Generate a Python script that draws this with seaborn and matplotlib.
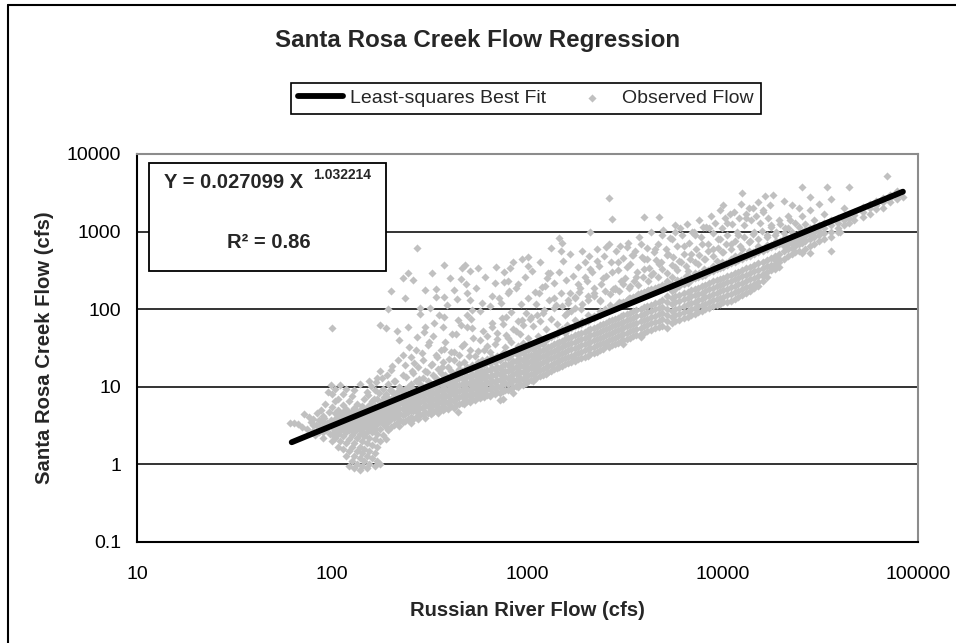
import pandas as pd
import matplotlib
matplotlib.use("Agg")
import matplotlib.pyplot as plt
from matplotlib.patches import Rectangle
from matplotlib.lines import Line2D
from matplotlib.ticker import FixedLocator, NullLocator, FuncFormatter
import seaborn as sns

# least-squares fit, Y = 0.027099 X^1.032214, drawn between its end points
fit_x = [62, 83700]
fit_y = [1.93, 3270]

# observed flows: Russian River flow (x columns) and
# the Santa Rosa Creek flows seen at each of them
low_x = [61, 64, 67, 70, 72, 74, 76, 78, 80, 82, 83, 84, 86, 87, 88, 90, 91, 92, 93, 94, 95, 96, 97, 98, 99, 100]
low_y = [[3.4], [3.4], [3.3], [3.0], [4.4], [2.9], [4.1], [3.5], [2.7, 3.2, 3.9], [2.4], [3.2], [4.6],
         [2.6, 3.1, 3.7], [3.6], [5.0], [2.2, 2.6, 3.0, 3.5, 4.2], [4.0], [6.0], [2.8], [3.4], [8.5],
         [4.8], [2.5], [10.5], [3.7], [2.0, 2.5, 3.0, 3.5, 5.5, 8.0, 57]]

blob_x = [103, 107, 110, 114, 118, 122, 126, 130, 134, 138, 142, 146, 150, 155, 160, 165, 170,
          176, 182, 188, 194]
blob_y = [[2.2, 2.8, 3.3, 3.9, 4.6, 6.5, 9.5], [1.7, 2.5, 3.0, 3.5, 4.2, 5.0, 7.0],
          [2.0, 2.7, 3.2, 3.7, 4.4, 10.5], [1.6, 2.3, 2.9, 3.4, 4.0, 4.8, 5.8, 8.0],
          [1.3, 1.9, 2.6, 3.1, 3.6, 4.3, 5.2, 9.5], [0.95, 1.5, 2.1, 2.8, 3.3, 3.9, 4.6, 6.5],
          [1.1, 1.7, 2.4, 3.0, 3.5, 4.1, 4.9, 7.5], [0.9, 1.3, 1.9, 2.6, 3.2, 3.7, 4.4, 5.4, 9.0],
          [1.0, 1.5, 2.2, 2.9, 3.4, 4.0, 4.7, 6.0], [0.85, 1.2, 1.7, 2.5, 3.1, 3.6, 4.2, 5.0, 11.0],
          [0.95, 1.4, 2.0, 2.7, 3.3, 3.9, 4.6, 5.6], [1.1, 1.6, 2.3, 3.0, 3.5, 4.1, 4.9, 7.0],
          [0.9, 1.3, 1.9, 2.6, 3.2, 3.8, 4.4, 5.3, 8.5], [1.0, 1.5, 2.2, 2.9, 3.5, 4.0, 4.7, 5.8, 12.0],
          [1.2, 1.8, 2.6, 3.2, 3.8, 4.4, 5.2, 6.5], [0.95, 1.4, 2.1, 2.9, 3.5, 4.1, 4.8, 5.7, 9.0],
          [1.1, 1.7, 2.5, 3.3, 3.9, 4.6, 5.4, 7.0, 13.0], [1.0, 2.0, 2.9, 3.6, 4.3, 5.0, 6.0, 16.0, 63],
          [2.4, 3.3, 4.0, 4.7, 5.5, 6.8, 9.5], [2.1, 3.0, 3.7, 4.4, 5.2, 6.2, 8.0, 57],
          [2.8, 3.5, 4.2, 5.0, 5.9, 7.2, 11, 100]]

mid_x = [200, 207, 214, 221, 229, 237, 244, 252, 260, 268, 273, 276, 283, 292, 300, 310, 315, 320,
         325, 330, 340, 350, 360, 370, 375, 380, 392, 400, 405, 418, 430, 440, 445, 455, 460, 475,
         480, 490, 505, 510]
mid_y = [[3.0, 3.8, 4.5, 5.2, 6.0, 7.0, 9.0, 16.5, 172], [3.2, 4.0, 4.8, 5.6, 6.5, 8.0, 12],
         [3.4, 4.2, 5.0, 5.9, 6.9, 8.5, 53], [3.1, 3.9, 4.6, 5.4, 6.3, 7.4, 10, 40],
         [3.5, 4.3, 5.1, 6.0, 7.0, 8.5, 14, 250], [3.6, 4.5, 5.4, 6.4, 7.5, 9.5, 19, 140],
         [3.8, 4.7, 5.6, 6.6, 7.8, 10, 59, 290], [3.4, 4.1, 5.0, 5.9, 6.9, 8.2, 11, 24],
         [3.9, 4.9, 5.8, 6.8, 8.0, 9.5, 15, 240], [4.1, 5.1, 6.1, 7.2, 8.6, 12, 30], [620],
         [3.8, 4.6, 5.5, 6.5, 7.7, 9.2, 18], [4.3, 5.3, 6.3, 7.5, 9.0, 11, 87, 103],
         [4.5, 5.4, 6.5, 7.8, 9.3, 13, 22], [4.0, 4.8, 5.8, 6.9, 8.2, 10, 16, 59, 177],
         [4.6, 5.6, 6.7, 8.0, 9.6, 12, 35], [103], [4.4, 5.2, 6.2, 7.4, 8.8, 11, 19], [290],
         [4.8, 5.8, 7.0, 8.4, 10, 14, 45], [5.0, 6.0, 7.2, 8.6, 10.5, 13, 26, 145, 180],
         [4.6, 5.5, 6.6, 7.9, 9.5, 11.5, 17], [5.2, 6.3, 7.6, 9.1, 11, 15, 30],
         [5.0, 6.0, 7.2, 8.7, 10.5, 12.5, 21, 59], [80, 145, 370], [5.4, 6.5, 7.8, 9.4, 11.3, 14, 38],
         [5.2, 6.2, 7.5, 9.0, 10.8, 13, 18], [250], [5.6, 6.8, 8.2, 9.9, 12, 16, 28],
         [5.4, 6.5, 7.8, 9.4, 11.3, 13.5, 22, 177], [5.8, 7.0, 8.5, 10.2, 12.3, 15, 48], [4.7, 72],
         [6.0, 7.3, 8.8, 10.6, 12.8, 17, 26], [245], [6.2, 7.5, 9.0, 10.9, 13.1, 16, 34, 340],
         [6.0, 7.2, 8.7, 10.5, 12.7, 15.5, 21], [370], [6.5, 7.8, 9.4, 11.3, 13.6, 18, 59, 85, 160],
         [6.3, 7.6, 9.2, 11.1, 13.4, 16.5, 30, 130], [310]]

upper_x = [520, 540, 555, 570, 585, 600, 620, 640, 660, 680, 690, 700, 720, 730, 745, 760, 770, 780,
           795, 810, 820, 845, 870, 895, 920, 940, 950, 980, 1000, 1010, 1040, 1070, 1100, 1130,
           1150, 1160, 1200, 1230, 1240, 1280, 1300, 1320, 1360, 1370, 1410, 1450, 1480, 1500]
upper_y = [[7.0, 8.4, 10.1, 12.2, 14.7, 19, 57, 97], [6.7, 8.0, 9.7, 11.7, 14.1, 17.5, 25],
           [7.3, 8.8, 10.6, 12.8, 15.4, 21, 340], [7.1, 8.6, 10.3, 12.4, 15, 18.5, 40],
           [7.6, 9.2, 11.0, 13.3, 16, 22, 120], [7.4, 8.9, 10.7, 12.9, 15.5, 19, 30],
           [7.9, 9.5, 11.5, 13.8, 16.7, 23, 45], [7.7, 9.3, 11.2, 13.5, 16.3, 20, 28],
           [8.2, 9.9, 11.9, 14.4, 17.4, 24, 59, 150], [8.0, 9.6, 11.6, 14.0, 16.9, 21, 36], [350],
           [8.5, 10.3, 12.4, 15, 18, 25, 50], [6.8, 8.3, 10.0, 12.1, 14.6, 17.6, 22], [120],
           [7.0, 8.9, 10.8, 13, 15.7, 19, 27, 65], [225], [9.2, 11.1, 13.4, 16.1, 19.4, 24, 33], [80],
           [9.0, 10.9, 13.1, 15.8, 19, 23.5, 42, 160, 230], [340], [9.5, 11.5, 13.9, 16.8, 20.2, 26, 38],
           [8.3, 10.0, 12.1, 14.6, 17.6, 21.2, 28, 55], [10.3, 12.4, 15, 18.1, 21.8, 27, 185],
           [10.0, 12.1, 14.6, 17.6, 21.2, 25.5, 34, 70], [10.8, 13, 15.7, 18.9, 22.8, 29, 48], [72, 445],
           [10.5, 12.7, 15.3, 18.4, 22.2, 27, 37], [11.3, 13.6, 16.4, 19.8, 23.9, 31, 90], [360],
           [11.8, 14.2, 17.1, 20.6, 24.8, 30, 42, 470], [12.3, 14.8, 17.8, 21.5, 26, 33, 80],
           [12.0, 14.5, 17.5, 21, 25.3, 31, 60], [12.8, 15.4, 18.6, 22.4, 27, 35, 115],
           [16.6, 19.5, 23.5, 28.3, 34, 45], [160], [13.7, 16.5, 19.9, 24, 29, 38, 70],
           [14.2, 17.1, 20.6, 24.8, 30, 36, 89], [200], [14.8, 17.8, 21.5, 25.9, 31, 40, 55],
           [15.5, 18.6, 22.5, 27, 32.5, 42, 295], [290], [16, 19.3, 23.3, 28, 34, 44, 75], [103],
           [16.8, 20.2, 24.3, 29.3, 35.3, 46, 140], [17.4, 21, 25.3, 30.5, 36.7, 48, 65],
           [18.1, 21.8, 26.3, 31.7, 38, 52, 830], [560], [18.8, 22.6, 27.2, 32.8, 39.5, 56, 110, 710]]

high_x = [1560, 1620, 1660, 1680, 1720, 1750, 1820, 1830, 1890, 1960, 2030, 2100, 2180, 2260, 2350,
          2440, 2530, 2600, 2700, 2800, 2900, 3000, 3100, 3230, 3350, 3480, 3600, 3800, 3940, 4100,
          4300, 4500, 4700, 4900]
high_y = [[19.5, 23.5, 28.3, 34.1, 41, 50, 85], [20.3, 24.5, 29.5, 35.5, 42.8, 55, 120], [160],
          [21, 25.3, 30.5, 36.8, 44.3, 58, 95], [24], [21.8, 26.3, 31.7, 38.2, 46, 60, 140],
          [22.7, 27.3, 32.9, 39.7, 47.8, 62, 210], [165], [23.5, 28.4, 34.2, 41.2, 49.6, 65, 100],
          [24.4, 29.4, 35.5, 42.8, 51.5, 68, 260], [25.3, 30.5, 36.8, 44.3, 53.4, 70, 150],
          [26.3, 31.7, 38.2, 46, 55.5, 75, 330, 980], [27.3, 32.9, 39.7, 47.8, 57.6, 78, 190],
          [28.3, 34.1, 41.2, 49.6, 59.8, 82, 420], [29.4, 35.5, 42.8, 51.5, 62, 85, 130],
          [30.5, 36.8, 44.3, 53.4, 64.4, 90, 250], [35, 38.2, 46, 55.5, 66.8, 94, 630],
          [33, 40, 48, 58, 70, 98, 2700], [34.5, 41.5, 50, 60, 72, 105, 300, 1450],
          [35.5, 43, 52, 62.5, 75.3, 110, 180], [37, 44.5, 53.6, 64.6, 77.9, 115, 400],
          [38.4, 46, 55.6, 67, 80.7, 120, 230], [36, 40, 48, 57.6, 69.4, 83.6, 125],
          [41.5, 50, 60, 72, 87, 130, 350, 630], [43, 52, 62.4, 75, 90.2, 140, 200],
          [44.5, 53.8, 64.7, 78, 93.8, 145, 500], [46, 55.5, 67, 80.7, 97, 150, 260],
          [44, 48, 58, 70, 84.5, 102, 160, 700], [50, 60, 72.6, 87.5, 105.5, 165, 330, 1540],
          [52, 62.5, 75.3, 90.8, 109.4, 170, 450], [54.3, 65.5, 79, 95.2, 114.7, 180, 280],
          [56.7, 68.4, 82.5, 99.4, 120, 190, 600], [59, 71.3, 86, 103.6, 125, 195, 380, 1540],
          [61.5, 74.2, 89.5, 108, 130, 205, 900]]

peak_x = [5200, 5500, 5700, 6000, 6300, 6600, 6900, 7200, 7500, 7800, 8100, 8500, 8900, 9300, 9700,
          10000, 10500, 11000, 11500, 12000, 12600, 13200, 13800, 14500, 15200, 16000, 16800, 17600,
          18000, 18500, 19500]
peak_y = [[58, 70, 84, 101, 122, 147, 230, 500], [66, 80, 96, 116, 140, 170, 260, 800],
          [70, 85, 102, 123, 148, 180, 350, 1200], [72, 87, 105, 127, 153, 200, 420],
          [76, 92, 111, 134, 161, 210, 650], [80, 96, 116, 140, 169, 220, 310],
          [85, 100, 121, 146, 176, 240, 520], [88, 104, 125, 151, 182, 250, 900],
          [92, 109, 131, 158, 190, 260, 380], [96, 113, 136, 164, 198, 270, 700],
          [100, 118, 142, 171, 206, 280, 450], [105, 124, 149, 180, 217, 300, 1100],
          [110, 130, 157, 189, 228, 310, 600], [114, 135, 163, 197, 238, 330, 420],
          [118, 141, 170, 205, 248, 340, 800], [122, 145, 175, 211, 255, 350, 550, 2200],
          [125, 152, 184, 222, 268, 370, 1300], [128, 159, 192, 232, 280, 390, 700],
          [135, 166, 200, 242, 292, 410, 480], [145, 174, 210, 253, 305, 430, 900],
          [152, 183, 220, 266, 320, 450, 600, 3150], [160, 192, 231, 279, 336, 470, 1500],
          [170, 201, 242, 292, 352, 490, 750], [185, 212, 255, 307, 370, 520, 1000],
          [200, 223, 268, 323, 390, 540, 650], [230, 270, 282, 340, 410, 570, 1800],
          [260, 300, 356, 430, 600, 850], [316, 350, 375, 452, 630, 1200], [2950],
          [330, 380, 430, 490, 660, 900], [350, 400, 450, 520, 700, 1400]]

flood_x = [20500, 21500, 22500, 23500, 24500, 25400, 26500, 28000, 29500, 31000, 33000, 34000, 36000,
           39000, 40000, 42000, 44500, 47000, 52000, 57000, 61000, 66000, 69000, 72000, 78000, 83700]
flood_y = [[450, 560, 650, 760, 950, 2500], [480, 590, 690, 800, 1100, 1600],
           [510, 620, 720, 850, 1000, 2200], [540, 650, 760, 900, 1300], [570, 690, 800, 950, 1150, 2000],
           [525, 720, 840, 1000, 1600, 3760], [600, 760, 880, 1050, 1250],
           [525, 650, 800, 930, 1100, 1900, 2800], [700, 850, 980, 1150, 1400], [750, 900, 1030, 1200, 2300],
           [800, 950, 1100, 1300, 1700], [3760], [560, 850, 1000, 1200, 1400, 2600],
           [1000, 1100, 1300, 1500], [1000], [1200, 1400, 1600, 2000], [1300, 1500, 3760],
           [1400, 1650, 1800], [1550, 1800, 2100], [1700, 2000, 2300], [1950, 2200, 2500],
           [2000, 2400, 2700], [5200], [2400, 2700, 3000], [2600, 2900, 3300], [2800]]

# the cloud just above the fit line at the high flows
near_x = [1600, 1750, 1900, 2050, 2200, 2350, 2500, 2650, 2800, 2950, 3100, 3300, 3500, 3700, 3900,
          4150, 4400, 4650, 4900, 5200, 5500, 5800, 6100, 6450, 6800, 7200, 7600, 8000, 8450, 8900,
          9400, 9900, 10400, 11000, 11600, 12200, 12900, 13600, 14300, 15100, 15900, 16800, 17700,
          18700, 19700, 20800, 22000]
near_y = [[62, 90], [72, 105], [70, 118], [85, 130], [82, 150], [95, 128], [100, 170], [112, 155],
          [108, 190], [125, 170], [120, 210], [140, 185], [135, 230], [158, 205], [150, 260],
          [175, 230], [168, 290], [195, 260], [190, 330], [215, 290], [210, 370], [240, 320],
          [235, 410], [265, 360], [260, 450], [295, 400], [290, 500], [330, 440], [320, 560],
          [365, 490], [355, 620], [405, 540], [395, 690], [450, 600], [440, 760], [500, 660],
          [490, 840], [555, 730], [545, 930], [615, 810], [605, 1030], [680, 900], [670, 1150],
          [760, 1000], [750, 1250], [840, 1100], [830, 1400]]

# loose points above the fit line, read one by one
scatter_x = [152, 158, 163, 168, 173, 179, 185, 191, 197, 203, 209, 216, 223, 231, 238, 247, 255, 263,
             271, 279, 287, 296, 305, 314, 323, 333, 343, 353, 364, 375, 386, 398, 410, 422, 435, 447,
             459, 472, 486, 499, 513, 527, 542, 557, 573, 589, 606, 623, 641, 659, 678, 697, 717, 737,
             758, 779, 801, 824, 847, 871, 896, 921, 947, 974, 1002, 1031, 1060, 1090, 1121, 1153,
             1186, 1219, 1254, 1290, 1326, 1364, 1403, 1443, 1484, 1526, 1570, 1614, 1660, 1707, 1756,
             1806, 1857, 1910, 1964, 2020, 2077, 2136, 2197, 2260, 2324, 2390, 2458, 2528, 2600, 2674,
             2750, 2828, 2908, 2991, 3076, 3163, 3253, 3345, 3440, 3538, 3638, 3741, 3848, 3957, 4069,
             4185, 4304, 4426, 4552, 4681, 4814, 4950, 5091, 5236, 5384, 5537, 5694, 5856, 6022, 6193,
             6369, 6550, 6736, 6927, 7124, 7326, 7534, 7748, 7968, 8194, 8426, 8666, 8911, 9164, 9424,
             9692, 9967, 10250, 10541, 10840, 11148, 11464, 11790, 12124, 12468, 12822, 13186, 13560,
             13945, 14341, 14748, 15166, 15597, 16040, 16495, 16963, 17445]
scatter_y = [7.8, 10.2, 6.9, 11.5, 8.3, 12.8, 7.4, 14.2, 9.1, 18.5, 11.8, 22, 9.7, 26, 13.4, 33, 16.2, 20.5,
             44, 12.6, 27, 51, 15.3, 38, 19.6, 66, 24, 83, 17.8, 31, 112, 22.5, 48, 28, 135, 19.5,
             63, 36, 210, 25, 75, 42, 190, 29, 94, 53, 260, 34, 110, 66, 220, 41, 140, 78,
             300, 46, 170, 93, 400, 52, 210, 118, 62, 260, 140, 74, 310, 168, 85, 400,
             195, 98, 250, 130, 620, 220, 112, 300, 160, 420, 240, 130, 520, 270, 145,
             350, 190, 560, 400, 230, 480, 300, 160, 600, 360, 210, 480, 270, 700, 410,
             180, 560, 320, 650, 460, 250, 720, 380, 500, 560, 300, 850, 470, 440, 620,
             340, 980, 540, 430, 700, 400, 1050, 600, 520, 820, 470, 990, 650, 1100, 900,
             520, 1250, 720, 1000, 1000, 600, 1400, 850, 1150, 1150, 700, 1600, 950, 1300, 800,
             1900, 1100, 1500, 900, 1700, 1250, 1800, 1000, 1500, 2300, 1200, 1700, 2000,
             1400, 2000, 1600, 2400, 1300, 1900, 2900, 1500, 2200]

x_ticks = [10, 100, 1000, 10000, 100000]
y_ticks = [0.1, 1, 10, 100, 1000, 10000]


def build_frame(groups, singles):
    rows = []
    for xs, ys in groups:
        for x, col in zip(xs, ys):
            for y in col:
                rows.append((x, y))
    rows += list(zip(*singles))
    return pd.DataFrame(rows, columns=["russian", "santa_rosa"])


obs = build_frame([(low_x, low_y), (blob_x, blob_y), (mid_x, mid_y), (upper_x, upper_y),
                   (high_x, high_y), (peak_x, peak_y), (flood_x, flood_y), (near_x, near_y)],
                  (scatter_x, scatter_y))

sns.set_theme(style="white")
plt.rcParams["font.family"] = ["Liberation Sans", "DejaVu Sans"]

W, H = 956, 643
fig = plt.figure(figsize=(W / 100, H / 100), dpi=100)
ax = fig.add_axes([137 / W, 1 - 542 / H, (918 - 137) / W, (542 - 154) / H])

sns.scatterplot(data=obs, x="russian", y="santa_rosa", ax=ax, marker="D", s=17,
                color="#C0C0C0", linewidth=0, label="Observed Flow", zorder=2)
sns.lineplot(x=fit_x, y=fit_y, ax=ax, color="black", linewidth=4.2,
             solid_capstyle="round", label="Least-squares Best Fit", zorder=3)

ax.set_xscale("log")
ax.set_yscale("log")
ax.set_xlim(10, 100000)
ax.set_ylim(0.1, 10000)
ax.xaxis.set_major_locator(FixedLocator(x_ticks))
ax.yaxis.set_major_locator(FixedLocator(y_ticks))
ax.xaxis.set_minor_locator(NullLocator())
ax.yaxis.set_minor_locator(NullLocator())
fmt = FuncFormatter(lambda v, p: f"{v:g}")
ax.xaxis.set_major_formatter(fmt)
ax.yaxis.set_major_formatter(fmt)
ax.tick_params(axis="both", direction="out", length=4.5, width=1.2, color="black",
               labelsize=14, labelcolor="black")
ax.tick_params(axis="x", pad=13)
ax.tick_params(axis="y", pad=7)
ax.yaxis.grid(True, color="#333333", linewidth=1.4)
ax.xaxis.grid(False)
ax.set_axisbelow(True)
for side in ["left", "bottom"]:
    ax.spines[side].set_color("black")
    ax.spines[side].set_linewidth(1.5)
for side in ["top", "right"]:
    ax.spines[side].set_color("#8c8c8c")
    ax.spines[side].set_linewidth(1.5)
ax.set_xlabel("")
ax.set_ylabel("")

# legend above the plot, line first
handles, labels = ax.get_legend_handles_labels()
if ax.get_legend() is not None:
    ax.get_legend().remove()
order = [labels.index("Least-squares Best Fit"), labels.index("Observed Flow")]
fig.legend([handles[i] for i in order], [labels[i] for i in order], loc="center",
           bbox_to_anchor=(526 / W, 1 - 98.5 / H), ncol=2, frameon=True, fancybox=False,
           edgecolor="black", fontsize=14, handlelength=2.3, columnspacing=1.2,
           handletextpad=0.4, borderpad=0.35, framealpha=1)
fig.legends[0].get_frame().set_linewidth(1.2)

fig.text(478 / W, 1 - 41 / H, "Santa Rosa Creek Flow Regression", ha="center", va="center",
         fontsize=17.4, fontweight="bold")
fig.text(527 / W, 1 - 610 / H, "Russian River Flow (cfs)", ha="center", va="center",
         fontsize=14.6, fontweight="bold")
fig.text(45 / W, 1 - 348 / H, "Santa Rosa Creek Flow (cfs)", ha="center", va="center",
         rotation=90, fontsize=14.6, fontweight="bold")

# equation box
ax.add_patch(Rectangle((149 / W, 1 - 271 / H), (386 - 149) / W, (271 - 163) / H,
                       transform=fig.transFigure, facecolor="white", edgecolor="black",
                       linewidth=1.3, zorder=5, clip_on=False))
fig.text(234 / W, 1 - 182.5 / H, "Y = 0.027099 X", ha="center", va="center",
         fontsize=14.5, fontweight="bold", zorder=6)
fig.text(342 / W, 1 - 175 / H, "1.032214", ha="center", va="center",
         fontsize=10, fontweight="bold", zorder=6)
fig.text(269 / W, 1 - 243 / H, "R\u00b2 = 0.86", ha="center", va="center",
         fontsize=14.5, fontweight="bold", zorder=6)

# outer chart border (top and left edges show)
fig.add_artist(Line2D([8 / W, 8 / W], [0, 1 - 5 / H], color="black", linewidth=1.5))
fig.add_artist(Line2D([8 / W, 1], [1 - 5 / H, 1 - 5 / H], color="black", linewidth=1.5))

fig.savefig("out.png", dpi=100)
